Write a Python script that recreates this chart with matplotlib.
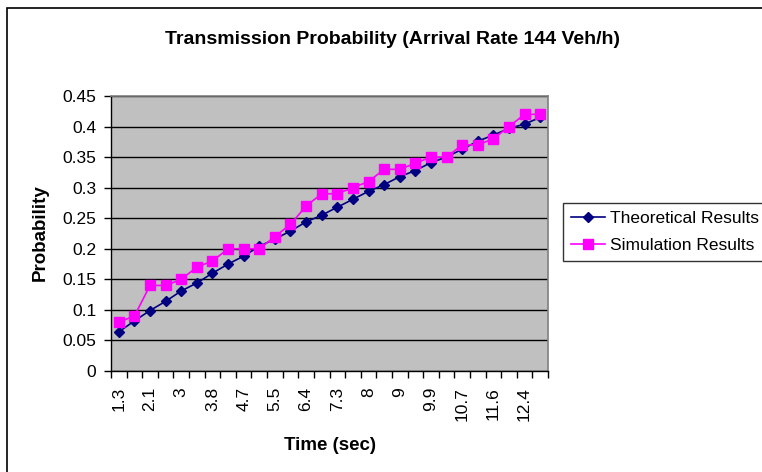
import matplotlib
matplotlib.use("Agg")
import matplotlib.pyplot as plt
from matplotlib.patches import Rectangle

times = ["1.3", "1.7", "2.1", "2.6", "3", "3.4", "3.8", "4.3", "4.7", "5.1",
         "5.5", "6", "6.4", "6.8", "7.3", "7.7", "8", "8.5", "9", "9.4",
         "9.9", "10.3", "10.7", "11.1", "11.6", "12", "12.4", "12.8"]
theoretical = [0.064, 0.082, 0.099, 0.114, 0.131, 0.144, 0.160, 0.175, 0.188, 0.204,
               0.216, 0.229, 0.244, 0.255, 0.268, 0.281, 0.294, 0.305, 0.318, 0.328,
               0.341, 0.350, 0.363, 0.376, 0.386, 0.397, 0.404, 0.415]
simulation = [0.08, 0.09, 0.14, 0.14, 0.15, 0.17, 0.18, 0.20, 0.20, 0.20,
              0.22, 0.24, 0.27, 0.29, 0.29, 0.30, 0.31, 0.33, 0.33, 0.34,
              0.35, 0.35, 0.37, 0.37, 0.38, 0.40, 0.42, 0.42]
yticks = [0, 0.05, 0.1, 0.15, 0.2, 0.25, 0.3, 0.35, 0.4, 0.45]
ytick_labels = ["0", "0.05", "0.1", "0.15", "0.2", "0.25", "0.3", "0.35", "0.4", "0.45"]

plt.rcParams['font.family'] = ['Liberation Sans', 'DejaVu Sans']

W, H = 762, 472
fig = plt.figure(figsize=(W / 100, H / 100), dpi=100)
fig.patch.set_facecolor("white")

# chart-area border
fig.patches.append(Rectangle((7 / W, -0.1), 1.2, (H - 8) / H + 0.1,
                             transform=fig.transFigure, fill=False,
                             edgecolor="black", linewidth=1.2))

left, right, top, bottom = 111, 548, 96, 371
ax = fig.add_axes([left / W, 1 - bottom / H, (right - left) / W, (bottom - top) / H])
ax.set_facecolor("#C0C0C0")

x = list(range(len(times)))
ax.plot(x, theoretical, color="#000080", marker="D", markersize=5.5, linewidth=1.2,
        label="Theoretical Results", zorder=3)
ax.plot(x, simulation, color="#FF00FF", marker="s", markersize=7, linewidth=1.2,
        label="Simulation Results", zorder=3)

ax.set_xlim(-0.5, len(times) - 0.5)
ax.set_ylim(0, 0.45)
ax.set_yticks(yticks)
ax.set_yticklabels(ytick_labels, fontsize=12.5)
ax.yaxis.grid(True, color="black", linewidth=1)
ax.set_axisbelow(True)

ax.set_xticks(x[::2])
ax.set_xticklabels(times[::2], rotation=90, fontsize=12.5)
ax.set_xticks([i - 0.5 for i in range(len(times) + 1)], minor=True)
ax.tick_params(axis="x", which="major", length=0, pad=11.5)
ax.tick_params(axis="x", which="minor", length=5, width=1, color="black")
ax.tick_params(axis="y", length=5, width=1, color="black", pad=5.5)

for s in ["top", "right"]:
    ax.spines[s].set_color("#808080")
    ax.spines[s].set_linewidth(1.2)
for s in ["left", "bottom"]:
    ax.spines[s].set_color("black")
    ax.spines[s].set_linewidth(1)

fig.text(40 / W, 1 - 233 / H, "Probability", rotation=90, ha="center", va="center",
         fontsize=13.5, fontweight="bold")
fig.text(330 / W, 1 - 445 / H, "Time (sec)", ha="center", va="center",
         fontsize=13.5, fontweight="bold")
fig.text(392 / W, 1 - 40 / H, "Transmission Probability (Arrival Rate 144 Veh/h)",
         ha="center", va="center", fontsize=14, fontweight="bold")

leg = ax.legend(loc="upper left", bbox_to_anchor=((563 - left) / (right - left), 1 - (203 - top) / (bottom - top)),
                bbox_transform=ax.transAxes, fontsize=12.5, frameon=True, fancybox=False,
                borderaxespad=0, handlelength=1.95, handletextpad=0.28, borderpad=0.45,
                labelspacing=0.7)
leg.get_frame().set_edgecolor("black")
leg.get_frame().set_linewidth(1)

fig.savefig("out.png", dpi=100)
